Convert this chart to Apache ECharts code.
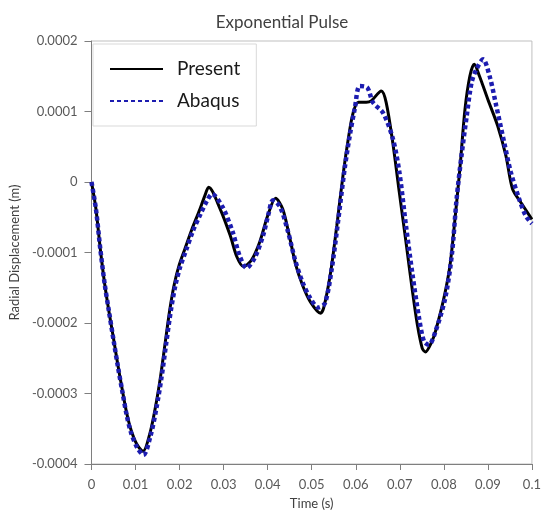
<!DOCTYPE html>
<html>
<head>
<meta charset="utf-8">
<script src="https://cdn.jsdelivr.net/npm/echarts@6/dist/echarts.min.js"></script>
<style>
  html, body { margin: 0; padding: 0; background: #fff; }
  #chart { width: 544px; height: 515px; }
</style>
</head>
<body>
<div id="chart"></div>
<script>
// time (s) and radial displacement (m)
const presentT = [0, 0.001, 0.002, 0.003, 0.004, 0.005, 0.006, 0.007, 0.008, 0.009, 0.0103, 0.0117,
  0.0132, 0.0145, 0.0157, 0.0168, 0.0178, 0.0188, 0.0199, 0.0212, 0.0228, 0.0244, 0.0257, 0.0266,
  0.0292, 0.0315, 0.033, 0.0345, 0.0363, 0.0382, 0.04, 0.0418, 0.0434, 0.0449, 0.0464, 0.0479, 0.0497,
  0.052, 0.0527, 0.0542, 0.0557, 0.0572, 0.0583, 0.0594, 0.0606, 0.0624, 0.0635, 0.0658, 0.0669, 0.0684,
  0.0699, 0.0714, 0.0729, 0.074, 0.0751, 0.0758, 0.0773, 0.0781, 0.08, 0.0814, 0.0826, 0.0837, 0.0848,
  0.0859, 0.0869, 0.0881, 0.09, 0.0922, 0.0941, 0.0956, 0.0975, 0.1];
const presentV = [0, -0.000038, -0.000095, -0.000145, -0.000185, -0.000222, -0.00026, -0.000295, -0.000328, -0.000352, -0.000372, -0.000382,
  -0.000358, -0.00032, -0.000275, -0.000225, -0.00018, -0.000145, -0.000118, -0.000095, -0.000067, -0.000042, -0.00002, -0.0000075,
  -0.000038, -0.000076, -0.000106, -0.00012, -0.000111, -0.000085, -0.000048, -0.000023, -0.000038, -0.000076, -0.000118, -0.000146, -0.00017,
  -0.000186, -0.000179, -0.000132, -0.000062, 0.000014, 0.000061, 0.000098, 0.000113, 0.000113, 0.000115, 0.000129, 0.000113, 0.000056,
  -0.000015, -0.000085, -0.000156, -0.000203, -0.000236, -0.000241, -0.000226, -0.000212, -0.000165, -0.000118, -0.000048, 0.000023, 0.000103,
  0.00015, 0.000167, 0.00015, 0.000117, 0.00008, 0.000037, -0.00001, -0.000029, -0.000053];

const abaqusT = [0, 0.001, 0.002, 0.003, 0.004, 0.005, 0.006, 0.007, 0.008, 0.009, 0.0104, 0.0118,
  0.0134, 0.0147, 0.0159, 0.017, 0.018, 0.019, 0.0201, 0.0214, 0.023, 0.0247, 0.0262, 0.0274,
  0.0298, 0.032, 0.0336, 0.0352, 0.0371, 0.039, 0.0402, 0.0412, 0.0428, 0.0446, 0.0462, 0.0479, 0.0497,
  0.0515, 0.053, 0.0545, 0.056, 0.0575, 0.0587, 0.0598, 0.0609, 0.0626, 0.0639, 0.0662, 0.0684, 0.0699,
  0.0714, 0.0729, 0.0744, 0.0755, 0.0766, 0.0781, 0.0803, 0.0818, 0.0829, 0.084, 0.0852,
  0.0863, 0.0874, 0.0889, 0.0904, 0.0919, 0.0937, 0.0952, 0.0971, 0.0986, 0.1];
const abaqusV = [0, -0.000038, -0.000095, -0.000145, -0.000185, -0.000224, -0.000262, -0.000297, -0.000331, -0.000356, -0.000377, -0.000387,
  -0.00036, -0.000322, -0.000277, -0.000227, -0.000183, -0.000148, -0.000121, -0.000098, -0.00007, -0.000046, -0.000027, -0.000017,
  -0.000036, -0.00007, -0.000104, -0.000122, -0.000107, -0.000075, -0.000045, -0.000026, -0.000035, -0.00007, -0.00011, -0.000142, -0.000165,
  -0.000178, -0.000172, -0.000125, -0.000055, 0.00002, 0.000068, 0.000105, 0.000136, 0.000134, 0.000113, 0.000098, 0.000062, 0.000014,
  -0.000062, -0.000132, -0.000194, -0.000226, -0.000231, -0.000212, -0.000165, -0.000104, -0.000024, 0.000037, 0.000094,
  0.000141, 0.00016, 0.000174, 0.00015, 0.000108, 0.000056, 0.000014, -0.000024, -0.000048, -0.000059];

const xTicks = { min: 0, max: 0.1, step: 0.01 };
const yTicks = { min: -0.0004, max: 0.0002, step: 0.0001 };

const FONT = 'Lato, "Open Sans", sans-serif';
const fmt = v => String(Number(v.toFixed(4)));

const chart = echarts.init(document.getElementById('chart'));
chart.setOption({
  animation: false,
  backgroundColor: '#fff',
  textStyle: { fontFamily: FONT },
  title: {
    text: 'Exponential Pulse',
    left: 277,
    top: 9,
    textAlign: 'center',
    textStyle: { fontFamily: FONT, fontSize: 17, fontWeight: 'normal', color: '#404040' }
  },
  legend: {
    orient: 'vertical',
    left: 93,
    top: 44,
    padding: [14, 16, 14, 16],
    itemWidth: 53,
    itemHeight: 14,
    itemGap: 10,
    borderColor: '#d9d9d9',
    borderWidth: 1,
    backgroundColor: '#fff',
    itemStyle: { opacity: 0 },
    textStyle: { fontFamily: FONT, fontSize: 19, color: '#1a1a1a', lineHeight: 22, padding: [0, 0, 0, 9] },
    data: ['Present', 'Abaqus']
  },
  grid: { left: 91, right: 7, top: 41, bottom: 49, show: true, borderColor: '#bfbfbf', borderWidth: 1 },
  xAxis: {
    type: 'value',
    min: xTicks.min, max: xTicks.max, interval: xTicks.step,
    name: 'Time (s)',
    nameLocation: 'middle',
    nameGap: 33,
    nameTextStyle: { fontFamily: FONT, fontSize: 13, color: '#404040' },
    axisLine: { show: true, onZero: false, lineStyle: { color: '#7f7f7f', width: 1 } },
    axisTick: { show: true, inside: false, length: 6, lineStyle: { color: '#7f7f7f' } },
    axisLabel: { formatter: fmt, margin: 14, fontSize: 13, color: '#595959', fontFamily: FONT },
    splitLine: { show: false }
  },
  yAxis: {
    type: 'value',
    min: yTicks.min, max: yTicks.max, interval: yTicks.step,
    name: 'Radial Displacement (m)',
    nameLocation: 'middle',
    nameGap: 62,
    nameTextStyle: { fontFamily: FONT, fontSize: 13, color: '#404040' },
    axisLine: { show: true, onZero: false, lineStyle: { color: '#7f7f7f', width: 1 } },
    axisTick: { show: true, inside: false, length: 7, lineStyle: { color: '#7f7f7f' } },
    axisLabel: { formatter: fmt, margin: 14, fontSize: 13, color: '#595959', fontFamily: FONT },
    splitLine: { show: false }
  },
  series: [
    {
      name: 'Present',
      type: 'line',
      data: presentT.map((t, i) => [t, presentV[i]]),
      showSymbol: false,
      symbol: 'none',
      smooth: 0.3,
      lineStyle: { color: '#000', width: 3 },
      itemStyle: { color: '#000' }
    },
    {
      name: 'Abaqus',
      type: 'line',
      data: abaqusT.map((t, i) => [t, abaqusV[i]]),
      showSymbol: false,
      symbol: 'none',
      smooth: 0.3,
      lineStyle: { color: '#1c1cb0', width: 4.5, type: [4, 3] },
      itemStyle: { color: '#1c1cb0' }
    }
  ]
});
</script>
</body>
</html>
